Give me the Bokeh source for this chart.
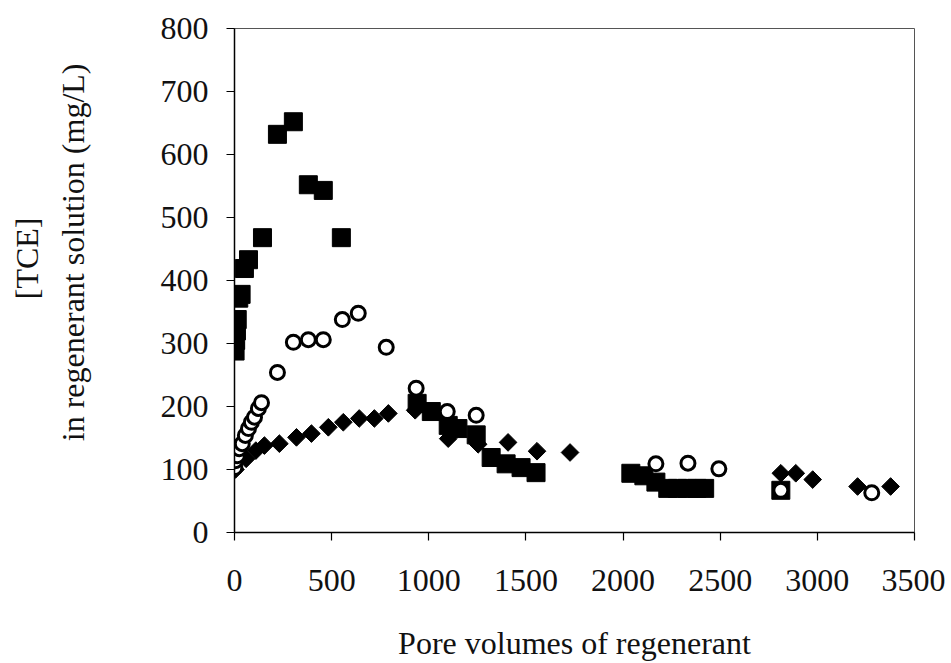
import math
from bokeh.plotting import figure
from bokeh.models import Range1d, FixedTicker, Title
from bokeh.embed import file_html
from bokeh.resources import INLINE

# Filled squares series
sq_x = [3, 6, 10, 14, 22, 34, 51, 72, 144, 221, 303, 380, 457, 550,
        940, 1013, 1100, 1150, 1244, 1321, 1398, 1475, 1552,
        2040, 2107, 2169, 2230, 2280, 2330, 2380, 2420, 2812]
sq_y = [288, 305, 320, 338, 372, 378, 419, 433, 468, 632, 652, 552, 543, 468,
        205, 192, 170, 165, 155, 119, 109, 103, 95,
        94, 90, 80, 70, 70, 70, 70, 70, 67]

# Open circles series
ci_x = [2, 5, 15, 25, 40, 56, 72, 87, 103, 123, 139, 221, 303, 380, 457, 555, 637, 781,
        935, 1095, 1244, 2169, 2334, 2493, 2812, 3280]
ci_y = [103, 114, 122, 133, 141, 154, 165, 175, 183, 197, 206, 254, 302, 306, 306, 338, 348, 294,
        229, 192, 186, 109, 110, 101, 67, 63]

# Filled diamonds series
di_x = [5, 60, 110, 154, 231, 319, 396, 483, 560, 642, 720, 792,
        930, 1100, 1254, 1408, 1557, 1727, 2812, 2889, 2976, 3207, 3377]
di_y = [100, 117, 130, 138, 141, 151, 157, 167, 175, 181, 181, 189,
        194, 149, 140, 143, 129, 127, 94, 94, 84, 73, 73]

x_ticks = [0, 500, 1000, 1500, 2000, 2500, 3000, 3500]
y_ticks = [0, 100, 200, 300, 400, 500, 600, 700, 800]

FONT = "Liberation Serif"

p = figure(width=945, height=663, output_backend="svg", toolbar_location=None,
           x_range=Range1d(0, 3500), y_range=Range1d(0, 800),
           min_border_left=233, min_border_right=31, min_border_top=28,
           min_border_bottom=131)

p.xgrid.visible = False
p.ygrid.visible = False
p.outline_line_color = "#555555"
p.outline_line_width = 1
p.background_fill_color = "white"
p.border_fill_color = "white"

p.xaxis.ticker = FixedTicker(ticks=x_ticks)
p.yaxis.ticker = FixedTicker(ticks=y_ticks)
for ax in (p.xaxis[0], p.yaxis[0]):
    ax.major_tick_in = 0
    ax.major_tick_out = 8
    ax.minor_tick_line_color = None
    ax.axis_line_color = "black"
    ax.axis_line_width = 1.5
    ax.major_tick_line_color = "black"
    ax.major_tick_line_width = 1.2
    ax.major_label_text_font = FONT
    ax.major_label_text_font_size = "32px"
    ax.major_label_text_color = "#111111"

p.yaxis.major_label_standoff = 18
p.xaxis.major_label_standoff = 29

p.xaxis.axis_label = "Pore volumes of regenerant"
p.xaxis.axis_label_text_font = FONT
p.xaxis.axis_label_text_font_size = "32px"
p.xaxis.axis_label_text_font_style = "normal"
p.xaxis.axis_label_text_color = "#111111"
p.xaxis.axis_label_standoff = 31

# blank spacer label on the y axis to push the titles outward
p.yaxis.axis_label = "\u00a0"
p.yaxis.axis_label_text_font = FONT
p.yaxis.axis_label_text_font_size = "32px"
p.yaxis.axis_label_standoff = 26

# Y axis title: two lines as two left-side titles
t2 = Title(text="in regenerant solution (mg/L)", align="right", offset=35,
           standoff=4, text_font=FONT, text_font_size="32px",
           text_font_style="normal", text_color="#111111")
p.add_layout(t2, "left")
t1 = Title(text="[TCE]", align="right", offset=189,
           standoff=12, text_font=FONT, text_font_size="32px",
           text_font_style="normal", text_color="#111111")
p.add_layout(t1, "left")

p.scatter(sq_x, sq_y, marker="square", size=18, fill_color="black", line_color="black")
p.scatter(di_x, di_y, marker="square", angle=math.pi / 4, size=12.5,
          fill_color="black", line_color="black")
p.scatter(ci_x, ci_y, marker="circle", size=14, fill_color="white", line_color="black",
          line_width=3)

open("out.html", "w").write(file_html(p, INLINE))
